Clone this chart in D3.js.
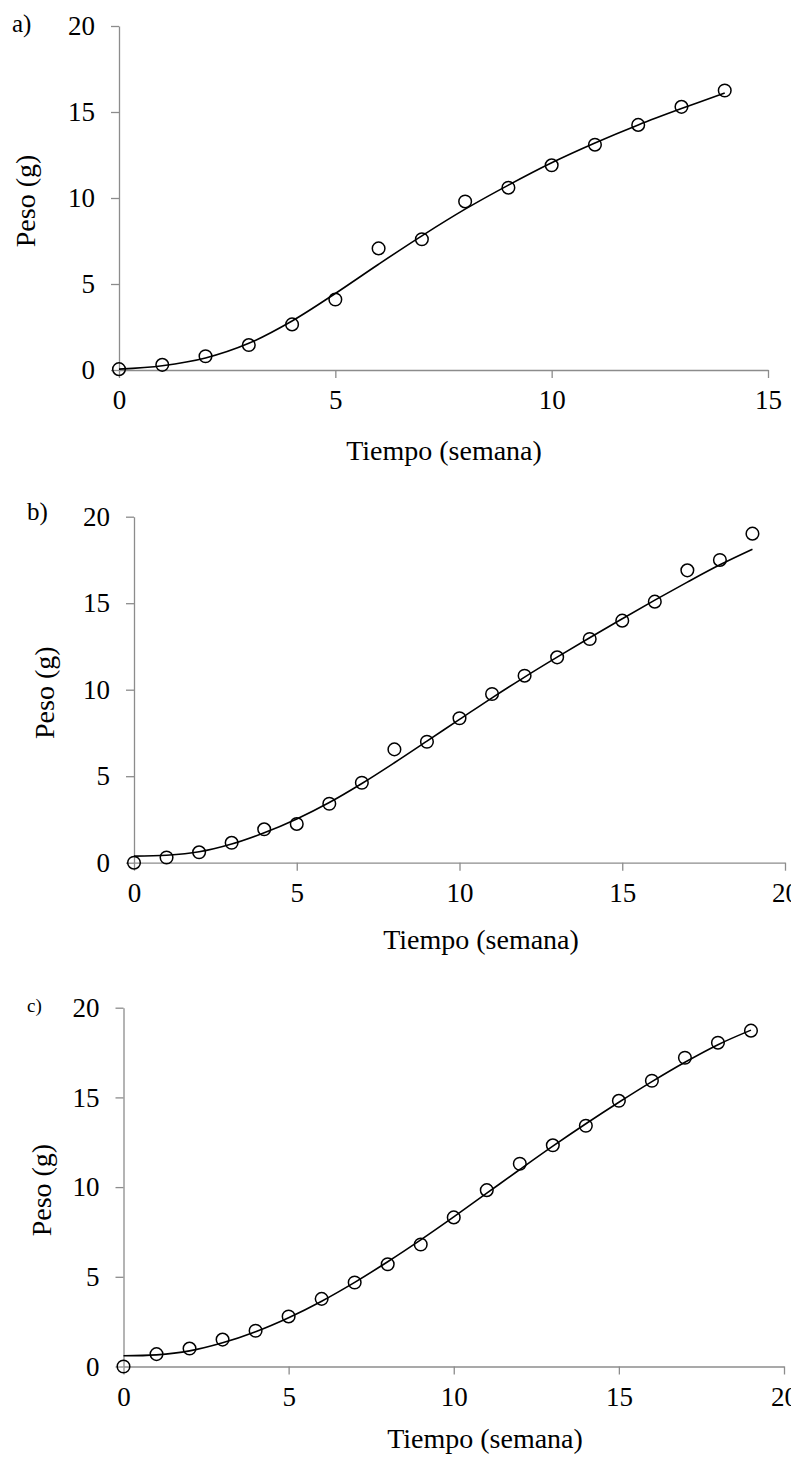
<!DOCTYPE html>
<html>
<head>
<meta charset="utf-8">
<script src="https://cdnjs.cloudflare.com/ajax/libs/d3/7.8.5/d3.min.js"></script>
<style>
    body { margin: 0; background: #fff; }
    svg { display: block; font-family: "Liberation Serif", "Times New Roman", serif; }
    .axis path, .axis line { stroke: #8c8c8c; stroke-width: 1.3px; }
    .axis text { fill: #000; }
</style>
</head>
<body>
<svg width="791" height="1458"></svg>
<script>
// Panel a) - weeks 0..14
var weeksA = [0, 1, 2, 3, 4, 5, 6, 7, 8, 9, 10, 11, 12, 13, 14];
var pesoA = [0.05, 0.3, 0.8, 1.45, 2.65, 4.1, 7.07, 7.6, 9.8, 10.6, 11.9, 13.1, 14.25, 15.3, 16.25];
var fitA = [0.05, 0.25, 0.7, 1.55, 2.85, 4.45, 6.15, 7.8, 9.35, 10.75, 12.05, 13.2, 14.25, 15.2, 16.1];

// Panel b) - weeks 0..19
var weeksB = [0, 1, 2, 3, 4, 5, 6, 7, 8, 9, 10, 11, 12, 13, 14, 15, 16, 17, 18, 19];
var pesoB = [0, 0.3, 0.6, 1.15, 1.93, 2.24, 3.41, 4.62, 6.55, 6.99, 8.35, 9.75, 10.81, 11.87, 12.93, 13.99, 15.09, 16.9, 17.5, 19.02];
var fitB = [0.38, 0.43, 0.63, 1.08, 1.73, 2.53, 3.48, 4.58, 5.78, 7.03, 8.28, 9.53, 10.73, 11.88, 13.0, 14.1, 15.18, 16.22, 17.22, 18.12];

// Panel c) - weeks 0..19
var weeksC = [0, 1, 2, 3, 4, 5, 6, 7, 8, 9, 10, 11, 12, 13, 14, 15, 16, 17, 18, 19];
var pesoC = [0, 0.69, 1.0, 1.5, 1.99, 2.79, 3.77, 4.68, 5.7, 6.8, 8.31, 9.83, 11.3, 12.33, 13.42, 14.81, 15.93, 17.21, 18.05, 18.72];
var fitC = [0.6, 0.65, 0.87, 1.32, 1.94, 2.72, 3.64, 4.69, 5.84, 7.06, 8.34, 9.66, 10.98, 12.28, 13.53, 14.73, 15.88, 16.96, 17.94, 18.75];

// Tick labels
var yTicks = [0, 5, 10, 15, 20];
var xTicksA = [0, 5, 10, 15];
var xTicksBC = [0, 5, 10, 15, 20];

var xTitle = 'Tiempo (semana)';
var yTitle = 'Peso (g)';

// layout for each panel (pixel boxes of the plot area + where texts sit)
var panels = [
    {tag: 'a)', weeks: weeksA, peso: pesoA, fit: fitA, xMax: 15, xTicks: xTicksA,
     box: {l: 119, r: 768, t: 26, b: 370},
     tagPos: [12, 32, 25], yTitleX: 35, xTitleX: 444, xTitleY: 460},
    {tag: 'b)', weeks: weeksB, peso: pesoB, fit: fitB, xMax: 20, xTicks: xTicksBC,
     box: {l: 134, r: 785, t: 516.7, b: 862.7},
     tagPos: [27, 520, 25], yTitleX: 54, xTitleX: 481, xTitleY: 949},
    {tag: 'c)', weeks: weeksC, peso: pesoC, fit: fitC, xMax: 20, xTicks: xTicksBC,
     box: {l: 123.5, r: 784, t: 1007.7, b: 1366.5},
     tagPos: [27, 1012, 19], yTitleX: 51, xTitleX: 485, xTitleY: 1448}
];

var svg = d3.select('svg');

panels.forEach(function(p) {
    var x = d3.scaleLinear().domain([0, p.xMax]).range([p.box.l, p.box.r]);
    var y = d3.scaleLinear().domain([0, 20]).range([p.box.b, p.box.t]);

    var g = svg.append('g');

    // axes
    g.append('g')
        .attr('class', 'axis')
        .attr('transform', 'translate(' + p.box.l + ',0)')
        .call(d3.axisLeft(y).tickValues(yTicks).tickSize(8).tickPadding(16).tickSizeOuter(0))
        .selectAll('text')
        .style('font-size', '27px')
        .style('font-family', '"Liberation Serif", serif');

    g.append('g')
        .attr('class', 'axis')
        .attr('transform', 'translate(0,' + p.box.b + ')')
        .call(d3.axisBottom(x).tickValues(p.xTicks).tickSize(8).tickPadding(12).tickSizeOuter(0))
        .selectAll('text')
        .style('font-size', '27px')
        .style('font-family', '"Liberation Serif", serif');

    // fitted curve
    var line = d3.line()
        .x(function(d, i) { return x(p.weeks[i]); })
        .y(function(d) { return y(d); })
        .curve(d3.curveCatmullRom.alpha(0.5));

    g.append('path')
        .datum(p.fit)
        .attr('d', line)
        .attr('fill', 'none')
        .attr('stroke', '#000')
        .attr('stroke-width', 1.6);

    // observed points
    g.selectAll('.pt')
        .data(p.peso)
        .enter().append('circle')
        .attr('class', 'pt')
        .attr('cx', function(d, i) { return x(p.weeks[i]); })
        .attr('cy', function(d) { return y(d); })
        .attr('r', 6.3)
        .attr('fill', 'none')
        .attr('stroke', '#000')
        .attr('stroke-width', 1.5);

    // panel tag
    g.append('text')
        .attr('x', p.tagPos[0])
        .attr('y', p.tagPos[1])
        .style('font-size', p.tagPos[2] + 'px')
        .text(p.tag);

    // axis titles
    g.append('text')
        .attr('x', p.xTitleX)
        .attr('y', p.xTitleY)
        .attr('text-anchor', 'middle')
        .style('font-size', '28px')
        .text(xTitle);

    g.append('text')
        .attr('transform', 'translate(' + p.yTitleX + ',' + ((p.box.t + p.box.b) / 2 + 3) + ') rotate(-90)')
        .attr('text-anchor', 'middle')
        .style('font-size', '28px')
        .text(yTitle);
});
</script>
</body>
</html>
